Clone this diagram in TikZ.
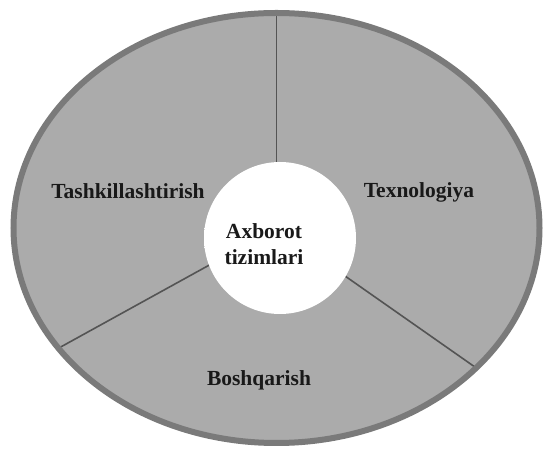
\documentclass[tikz,border=0pt]{standalone}
\usepackage{fontspec}
\setmainfont{Liberation Serif}
\usetikzlibrary{calc}
\definecolor{sectorgray}{gray}{0.67}
\definecolor{rimgray}{gray}{0.48}
\definecolor{splitgray}{gray}{0.33}
\pgfdeclareradialshading{hubglow}{\pgfpoint{0bp}{0bp}}{color(0bp)=(white); color(36bp)=(white); color(43bp)=(white!88!sectorgray); color(50bp)=(sectorgray)}
\tikzset{
  sector label/.style={font=\fontsize{21.5}{26}\selectfont\bfseries, text=black!90, inner sep=0pt},
  hub disc/.style={circle, shading=hubglow, minimum size=152pt, inner sep=0pt},
  split line/.style={splitgray, line width=1.6pt},
}

\begin{document}
\begin{tikzpicture}[x=1pt,y=1pt]
    \useasboundingbox (0,0) rectangle (546,449);
    \coordinate (O) at (276.5,221);
    \fill[sectorgray] (O) ellipse [x radius=263, y radius=215];
    % three cuts from the middle out to the rim
    \coordinate (cut1) at ($(O)+(90:263 and 215)$);
    \coordinate (cut2) at ($(O)+(214:263 and 215)$);
    \coordinate (cut3) at ($(O)+(319.4:263 and 215)$);
    \draw[split line] (O) -- (cut1);
    \draw[split line] (O) -- (cut2);
    \draw[split line] (O) -- (cut3);
    \draw[rimgray, line width=6pt] (O) ellipse [x radius=263, y radius=215];
    \node[hub disc] (hub) at (280,211) {};
    \node[sector label, align=center] (ais) at (264,205) {Axborot\\tizimlari};
    \node[sector label] (tash) at (128,258) {Tashkillashtirish};
    \node[sector label] (texn) at (419,257) {Texnologiya};
    \node[sector label] (bosh) at (259,69) {Boshqarish};
\end{tikzpicture}
\end{document}
